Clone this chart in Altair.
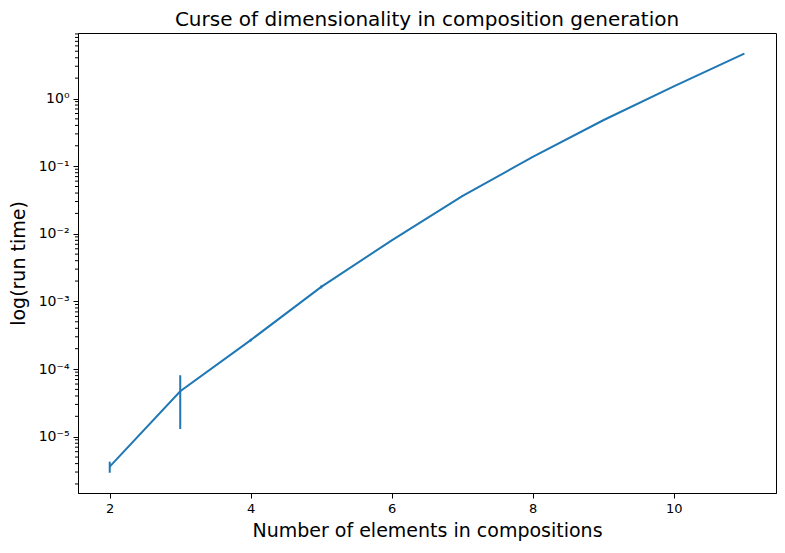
import altair as alt
import pandas as pd

# number of elements in composition vs. mean run time (s) and its std
n_elements = [2, 3, 4, 5, 6, 7, 8, 9, 10, 11]
run_time = [3.6e-6, 4.7e-5, 2.68e-4, 1.64e-3, 8.0e-3, 0.036, 0.137, 0.477, 1.51, 4.6]
run_err = [0.67e-6, 3.4e-5, 1.2e-5, 8e-5, 1e-4, 4e-4, 1e-3, 3e-3, 1e-2, 2e-2]

y_domain = [1.47e-6, 9.3]
x_domain = [1.55, 11.45]
major_ticks = [1e-5, 1e-4, 1e-3, 1e-2, 1e-1, 1e0]
minor_ticks = [m * 10.0 ** k for k in range(-6, 1) for m in range(2, 10)]
minor_ticks = [v for v in minor_ticks if y_domain[0] <= v <= y_domain[1]]

df = pd.DataFrame({'n': n_elements, 't': run_time, 'err': run_err})
df['lo'] = df['t'] - df['err']
df['hi'] = df['t'] + df['err']
df_minor = pd.DataFrame({'v': minor_ticks})

blue = '#1f77b4'
font = 'DejaVu Sans'

sup = "['⁰','¹','²','³','⁴','⁵','⁶','⁷','⁸','⁹']"
label_expr = ("'10' + (round(log(datum.value)/LN10) < 0 ? '⁻' : '') + "
              + sup + "[abs(round(log(datum.value)/LN10))]")

x_enc = alt.X('n:Q', scale=alt.Scale(domain=x_domain, nice=False, zero=False),
              axis=alt.Axis(title='Number of elements in compositions', values=[2, 4, 6, 8, 10],
                            grid=False, format='d', titlePadding=6, labelFontSize=13))
y_scale = alt.Scale(type='log', domain=y_domain, nice=False)

line = alt.Chart(df).mark_line(color=blue, strokeWidth=2).encode(
    x_enc,
    alt.Y('t:Q', scale=y_scale,
          axis=alt.Axis(title='log(run time)', values=major_ticks, labelExpr=label_expr,
                        grid=False, titlePadding=10, labelFontSize=14))
)

bars = alt.Chart(df).mark_rule(color=blue, strokeWidth=2).encode(
    x='n:Q',
    y='lo:Q',
    y2='hi:Q'
)

minor = alt.Chart(df_minor).mark_rule(color='black', strokeWidth=1).encode(
    y=alt.Y('v:Q', scale=y_scale),
    x=alt.value(0),
    x2=alt.value(-3)
)

chart = (line + bars + minor).properties(
    width=698,
    height=460,
    title='Curse of dimensionality in composition generation',
    autosize=alt.AutoSizeParams(type='none'),
    padding={'left': 70, 'top': 25, 'right': 1, 'bottom': 50}
).configure_view(
    stroke='black', strokeWidth=1
).configure_axis(
    domainColor='black', tickColor='black', tickSize=5, labelColor='black',
    labelFont=font, titleFont=font, titleFontSize=19,
    titleFontWeight='normal', titleColor='black', labelPadding=4
).configure_title(
    font=font, fontSize=20, fontWeight='normal', color='black', offset=3
)

chart.save('out.html', embed_options={'renderer': 'svg', 'actions': False})
